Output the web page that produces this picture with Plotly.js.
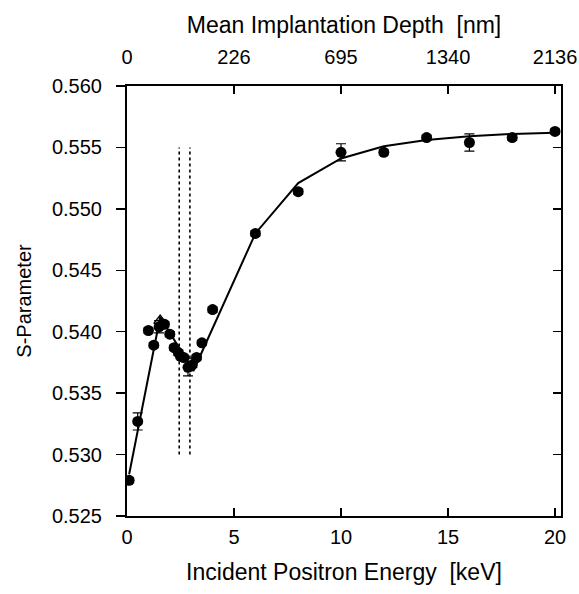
<!DOCTYPE html>
<html>
<head>
<meta charset="utf-8">
<script src="https://cdn.plot.ly/plotly-3.0.1.min.js"></script>
<style>html,body{margin:0;padding:0;background:#fff;}#chart{width:579px;height:594px;}</style>
</head>
<body>
<div id="chart"></div>
<script>
// Measured S-parameter data
const energy = [0.1, 0.5, 1.0, 1.25, 1.5, 1.75, 2.0, 2.2, 2.4, 2.5, 2.65, 2.85, 3.05, 3.25, 3.5, 4.0, 6.0, 8.0, 10.0, 12.0, 14.0, 16.0, 18.0, 20.0];
const sParam = [0.5279, 0.5327, 0.5401, 0.5389, 0.5404, 0.5406, 0.5398, 0.5387, 0.5383, 0.5380, 0.5379, 0.5371, 0.5373, 0.5379, 0.5391, 0.5418, 0.5480, 0.5514, 0.5546, 0.5546, 0.5558, 0.5554, 0.5558, 0.5563];
const sErr   = [0.0002, 0.0007, 0.0002, 0.0002, 0.0005, 0.0002, 0.0002, 0.0002, 0.0002, 0.0002, 0.0002, 0.0007, 0.0002, 0.0002, 0.0002, 0.0002, 0.0002, 0.0002, 0.0007, 0.0002, 0.0002, 0.0007, 0.0002, 0.0002];
// Open triangle at the peak
const triE = [1.55];
const triS = [0.5409];
// Fitted curve
const fitE = [0.1, 0.5, 1.55, 3.1, 6.0, 8.0, 10.0, 12.0, 14.0, 16.0, 18.0, 20.0];
const fitS = [0.5284, 0.5320, 0.5412, 0.5368, 0.5480, 0.5521, 0.5541, 0.5551, 0.5556, 0.5559, 0.5561, 0.5562];
// Vertical dotted markers (layer boundaries)
const boundE = [2.44, 2.94];
const boundS = [0.530, 0.555];
// Axis ticks
const bottomTicks = [0, 5, 10, 15, 20];
const topTickText = ['0', '226', '695', '1340', '2136'];
const yTicks = [0.525, 0.530, 0.535, 0.540, 0.545, 0.550, 0.555, 0.560];

const xRange = [0, 20.28];
const yRange = [0.525, 0.560];

const traces = [
  {x: fitE, y: fitS, mode: 'lines', line: {color: '#000', width: 2}, hoverinfo: 'skip', showlegend: false},
  {x: [boundE[0], boundE[0]], y: boundS, mode: 'lines', line: {color: '#000', width: 1.6, dash: 'dot'}, showlegend: false},
  {x: [boundE[1], boundE[1]], y: boundS, mode: 'lines', line: {color: '#000', width: 1.6, dash: 'dot'}, showlegend: false},
  {x: triE, y: triS, mode: 'markers', marker: {symbol: 'triangle-up-open', color: '#000', size: 11, line: {width: 1.5}}, showlegend: false},
  {x: energy, y: sParam, mode: 'markers',
   marker: {color: '#000', size: 11},
   error_y: {type: 'data', array: sErr, visible: true, color: '#000', thickness: 1.2, width: 5},
   showlegend: false},
  {x: [0, 20], y: [null, null], xaxis: 'x2', yaxis: 'y2', mode: 'markers', showlegend: false, hoverinfo: 'skip'}
];

const font = {family: 'Liberation Sans, Arial, sans-serif', size: 20, color: '#000'};
const titleFont = {family: 'Liberation Sans, Arial, sans-serif', size: 23, color: '#000'};

const layout = {
  width: 579, height: 594,
  margin: {l: 127, r: 18, t: 86, b: 78},
  paper_bgcolor: '#fff', plot_bgcolor: '#fff',
  font: font,
  showlegend: false,
  xaxis: {
    range: xRange, tickvals: bottomTicks, ticktext: bottomTicks.map(String),
    ticks: 'inside', ticklen: 8, tickwidth: 1.5, tickcolor: '#000',
    ticklabelstandoff: 2,
    showline: true, linecolor: '#000', linewidth: 2, showgrid: false, zeroline: false,
    tickfont: font,
    title: {text: 'Incident Positron Energy  [keV]', font: titleFont, standoff: 17}
  },
  xaxis2: {
    overlaying: 'x', side: 'top', anchor: 'y2',
    range: xRange, tickvals: bottomTicks, ticktext: topTickText,
    ticks: 'inside', ticklen: 8, tickwidth: 1.5, tickcolor: '#000',
    ticklabelstandoff: 12,
    showline: true, linecolor: '#000', linewidth: 2, showgrid: false, zeroline: false,
    tickfont: font,
    title: {text: 'Mean Implantation Depth  [nm]', font: titleFont, standoff: 6}
  },
  yaxis: {
    range: yRange, tickvals: yTicks, ticktext: yTicks.map(v => v.toFixed(3)),
    ticks: 'outside', ticklen: 9, tickwidth: 1.5, tickcolor: '#000',
    ticklabelstandoff: 10,
    showline: true, linecolor: '#000', linewidth: 2, showgrid: false, zeroline: false,
    tickfont: font,
    title: {text: 'S-Parameter', font: font, standoff: 15}
  },
  yaxis2: {
    overlaying: 'y', side: 'right', anchor: 'x2',
    range: yRange, tickvals: yTicks, showticklabels: false,
    ticks: 'inside', ticklen: 8, tickwidth: 1.5, tickcolor: '#000',
    showline: true, linecolor: '#000', linewidth: 2, showgrid: false, zeroline: false
  }
};

Plotly.newPlot('chart', traces, layout, {displayModeBar: false, staticPlot: true});
</script>
</body>
</html>
